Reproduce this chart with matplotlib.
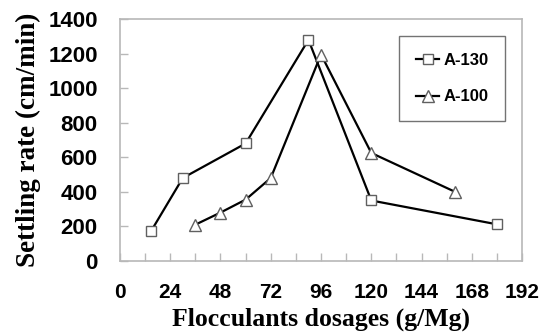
import matplotlib
matplotlib.use("Agg")
import matplotlib.pyplot as plt

# values
a130_x = [15, 30, 60, 90, 120, 180]
a130_y = [175, 480, 680, 1280, 350, 212]
a100_x = [36, 48, 60, 72, 96, 120, 160]
a100_y = [210, 280, 355, 480, 1195, 625, 400]

xticks = [0, 24, 48, 72, 96, 120, 144, 168, 192]
yticks = [0, 200, 400, 600, 800, 1000, 1200, 1400]

spine_col = '#b8b8b8'

fig = plt.figure(figsize=(5.4, 3.35), dpi=100)
ax = fig.add_axes([0.222, 0.221, 0.745, 0.722])

ax.plot(a130_x, a130_y, color='black', lw=1.6, marker='s', ms=7,
        mfc='white', mec='#606060', mew=1.0, label='A-130')
ax.plot(a100_x, a100_y, color='black', lw=1.6, marker='^', ms=8,
        mfc='white', mec='#606060', mew=1.0, label='A-100')

ax.set_xlim(0, 192)
ax.set_ylim(0, 1400)
ax.set_xticks(xticks)
ax.set_xticks(range(0, 193, 12), minor=True)
ax.set_yticks(yticks)

for s in ax.spines.values():
    s.set_color(spine_col)
    s.set_linewidth(1.2)

ax.tick_params(axis='both', which='both', direction='in', color=spine_col,
               width=1.0, length=6)
ax.tick_params(axis='x', pad=16)
ax.tick_params(axis='y', pad=16)
for lab in ax.get_xticklabels():
    lab.set_fontfamily('Liberation Sans')
    lab.set_fontweight('bold')
    lab.set_fontsize(15)
for lab in ax.get_yticklabels():
    lab.set_fontfamily('Liberation Sans')
    lab.set_fontweight('bold')
    lab.set_fontsize(16)

ax.set_xlabel('Flocculants dosages (g/Mg)', fontfamily='Liberation Serif',
              fontweight='bold', fontsize=18.5, labelpad=4)
ax.set_ylabel('Settling rate (cm/min)', fontfamily='Liberation Serif',
              fontweight='bold', fontsize=19.5, labelpad=5)

leg = ax.legend(loc='upper left', bbox_to_anchor=(0.695, 0.93),
                prop={'family': 'Liberation Sans', 'weight': 'bold', 'size': 12},
                frameon=True, fancybox=False, edgecolor='#505050',
                labelspacing=1.3, handlelength=1.4, borderpad=1.0,
                handletextpad=0.25, borderaxespad=0)
leg.get_frame().set_linewidth(1.0)

fig.savefig('out.png', dpi=100, facecolor='white')
